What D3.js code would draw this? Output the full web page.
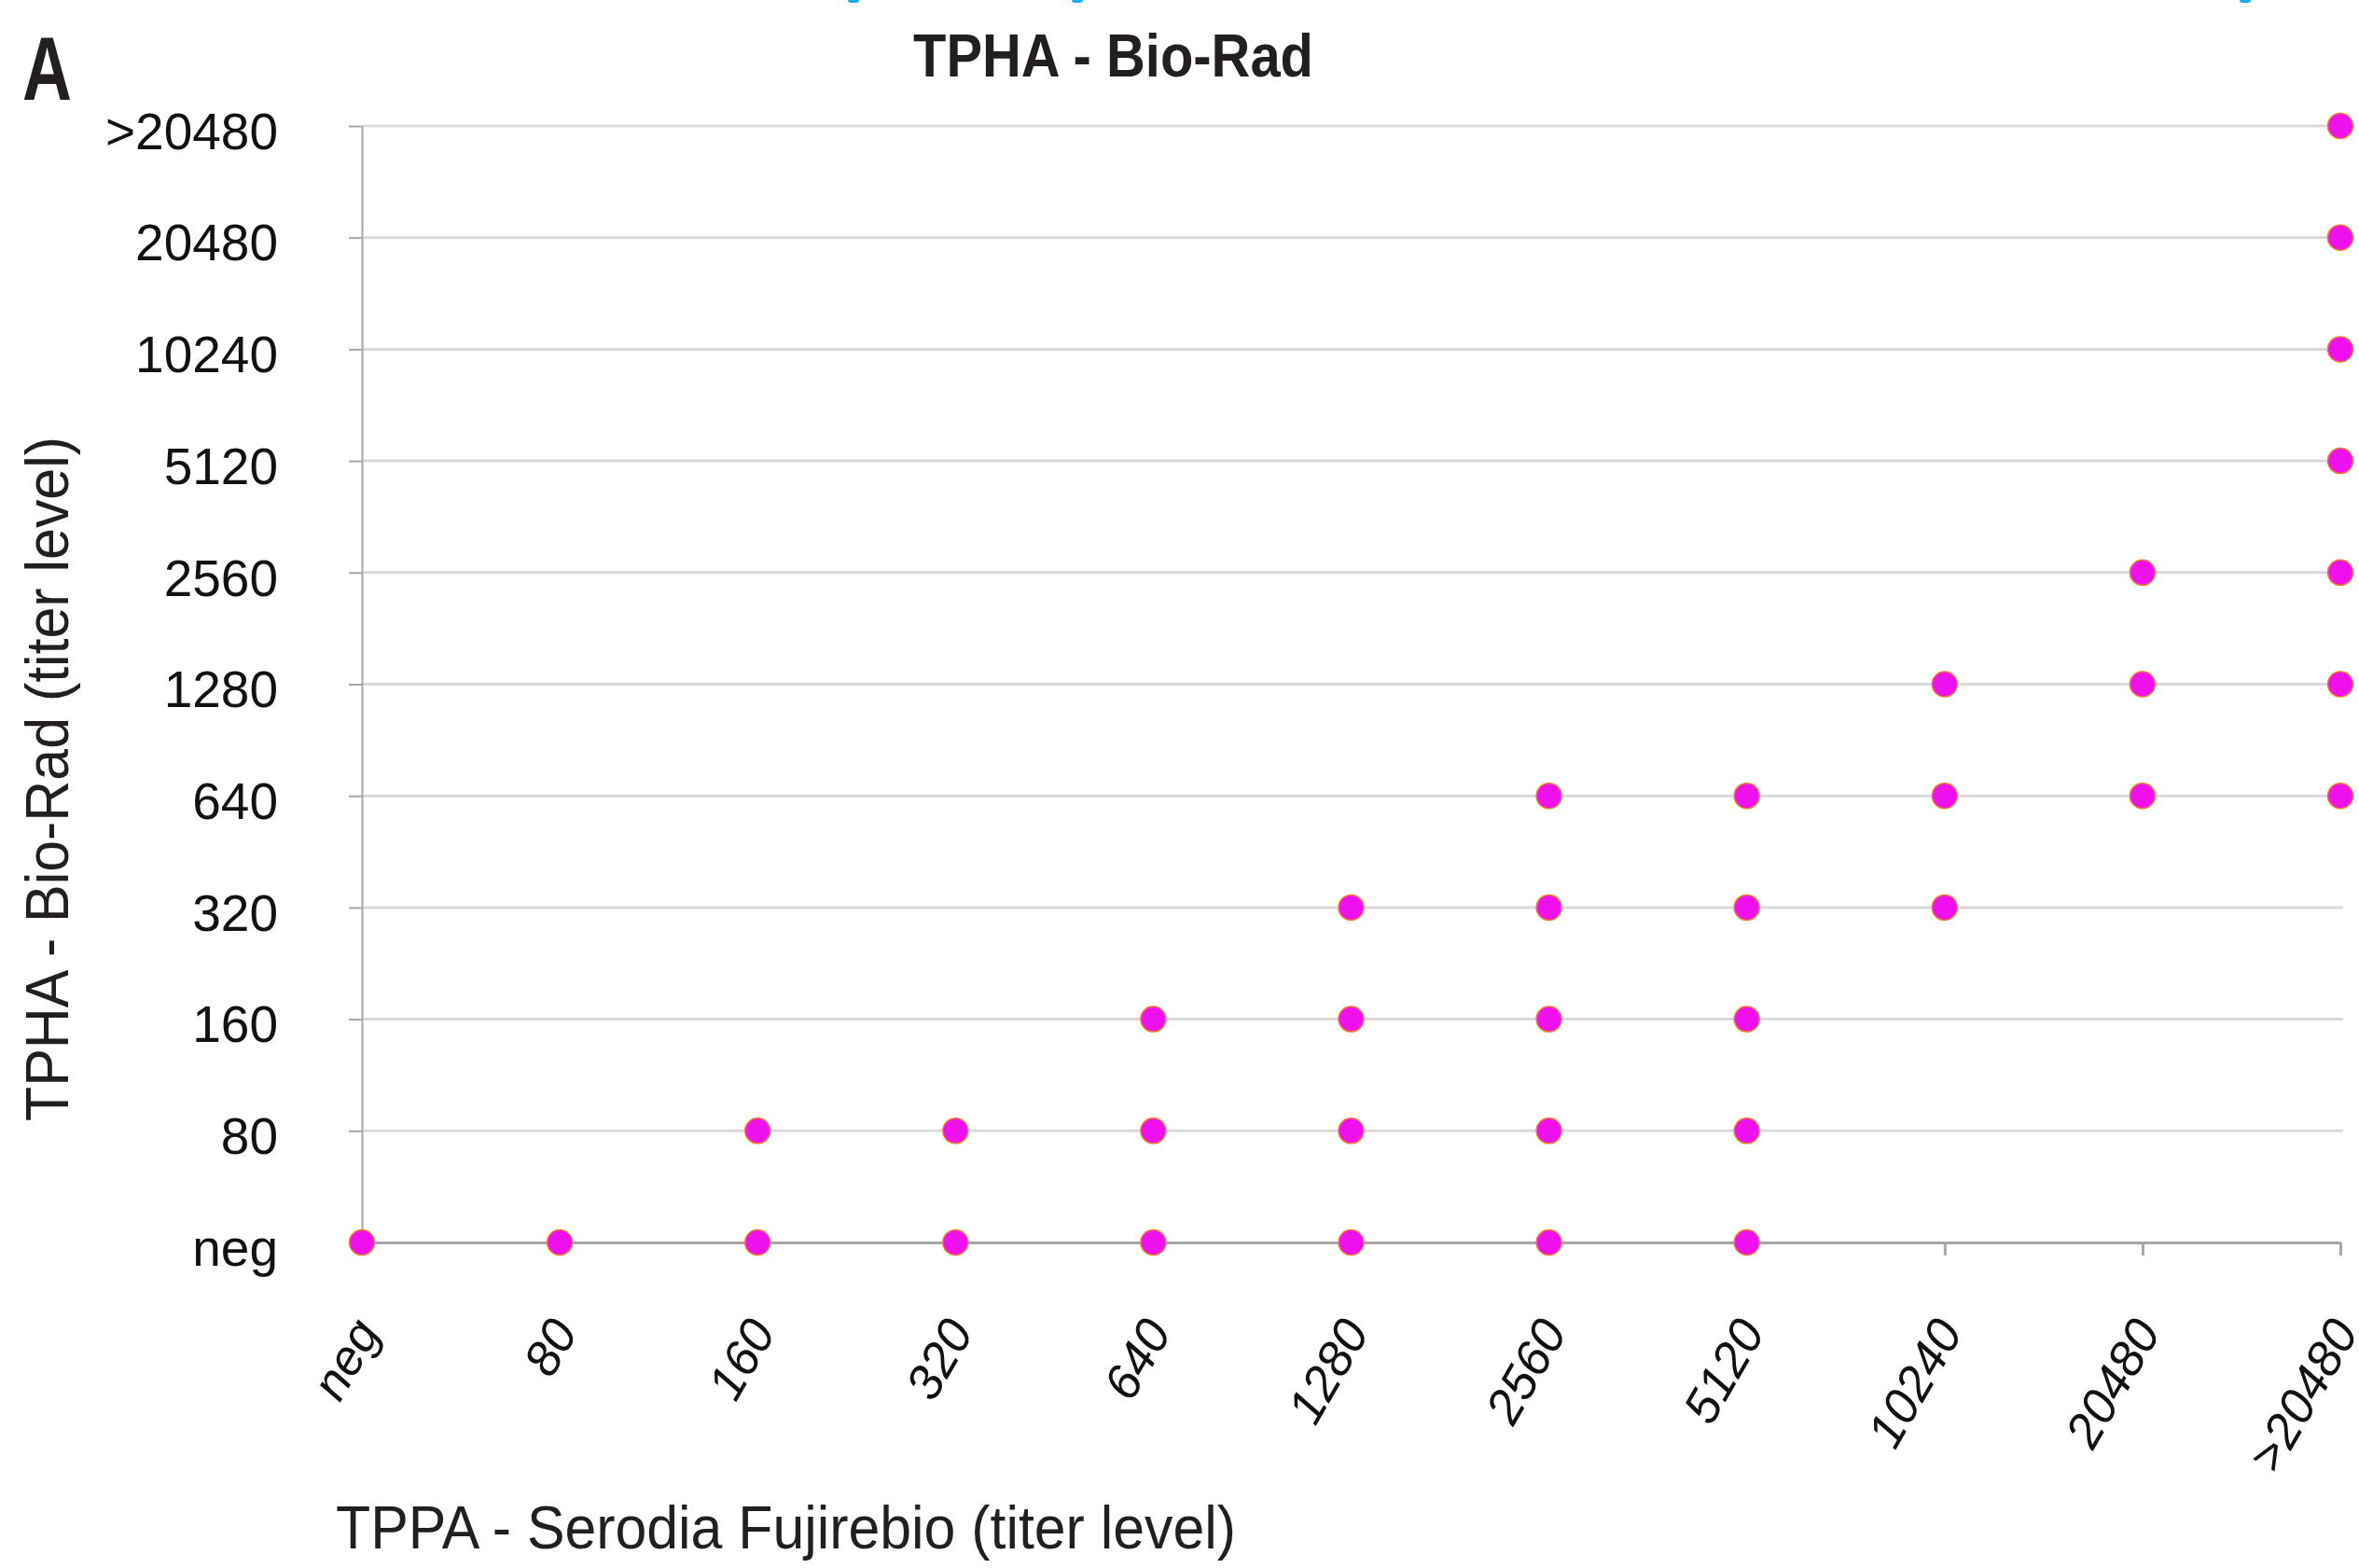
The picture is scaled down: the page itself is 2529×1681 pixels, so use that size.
<!DOCTYPE html>
<html>
<head>
<meta charset="utf-8">
<script src="https://cdn.jsdelivr.net/npm/d3@7"></script>
<style>
  body { margin: 0; background: #fff; }
  svg { display: block; font-family: "Liberation Sans", Arial, sans-serif; }
  .grid line { stroke: #d9d9d9; stroke-width: 3; }
  .y-axis .domain, .y-axis line { stroke: #a6a6a6; stroke-width: 2; }
  .x-axis .domain, .x-axis line { stroke: #a6a6a6; stroke-width: 3; }
  .y-axis text { font-size: 55px; fill: #111; }
  .x-axis text { font-size: 53px; fill: #111; font-style: italic; }
</style>
</head>
<body>
<svg width="2529" height="1681"></svg>
<script>
var svg = d3.select("svg"),
    width = +svg.attr("width"),
    height = +svg.attr("height");

// titer levels, same for both axes
var levels = ["neg", "80", "160", "320", "640", "1280", "2560", "5120", "10240", "20480", ">20480"];

// observed result pairs: TPPA (x) and TPHA (y)
var tppa = ["neg", "80",
            "160", "160",
            "320", "320",
            "640", "640", "640",
            "1280", "1280", "1280", "1280",
            "2560", "2560", "2560", "2560", "2560",
            "5120", "5120", "5120", "5120", "5120",
            "10240", "10240", "10240",
            "20480", "20480", "20480",
            ">20480", ">20480", ">20480", ">20480", ">20480", ">20480", ">20480"];
var tpha = ["neg", "neg",
            "neg", "80",
            "neg", "80",
            "neg", "80", "160",
            "neg", "80", "160", "320",
            "neg", "80", "160", "320", "640",
            "neg", "80", "160", "320", "640",
            "320", "640", "1280",
            "640", "1280", "2560",
            "640", "1280", "2560", "5120", "10240", "20480", ">20480"];

var points = tppa.map(function(d, i) { return {x: d, y: tpha[i]}; });

var x = d3.scalePoint().domain(levels).range([388, 2509]);
var y = d3.scalePoint().domain(levels).range([1332, 135]);

svg.append("rect").attr("width", width).attr("height", height).attr("fill", "#fff");

// cut-off cyan marks at the top edge
svg.append("g").selectAll("rect")
  .data([909, 1149, 2401])
  .enter().append("rect")
    .attr("x", function(d) { return d; })
    .attr("y", -4)
    .attr("width", 12)
    .attr("height", 7)
    .attr("rx", 3)
    .attr("fill", "#19aeea");

// horizontal gridlines
svg.append("g")
    .attr("class", "grid")
  .selectAll("line")
  .data(levels.slice(1))
  .enter().append("line")
    .attr("x1", 388)
    .attr("x2", 2512)
    .attr("y1", function(d) { return y(d); })
    .attr("y2", function(d) { return y(d); });

svg.append("g")
    .attr("class", "y-axis")
    .attr("transform", "translate(388,0)")
    .call(d3.axisLeft(y).tickSize(14).tickPadding(76).tickSizeOuter(0))
  .selectAll("text")
    .attr("dy", "0.44em")
    .attr("font-family", "Liberation Sans");

var xAxis = svg.append("g")
    .attr("class", "x-axis")
    .attr("transform", "translate(0,1332)")
    .call(d3.axisBottom(x).tickSize(14).tickSizeOuter(0));

xAxis.selectAll("text")
    .attr("font-family", "Liberation Sans")
    .attr("text-anchor", "end")
    .attr("x", null).attr("y", null).attr("dy", null)
    .attr("transform", "translate(20,96) rotate(-60)");

// dots
svg.append("g")
  .selectAll("circle")
  .data(points)
  .enter().append("circle")
    .attr("cx", function(d) { return x(d.x); })
    .attr("cy", function(d) { return y(d.y); })
    .attr("r", 13.5)
    .attr("fill", "#ee10ee")
    .attr("stroke", "#ef7a35")
    .attr("stroke-width", 1.5);

// titles
svg.append("text")
    .attr("x", 979)
    .attr("y", 82)
    .attr("font-size", 65)
    .attr("font-weight", "bold")
    .attr("fill", "#231f20")
    .attr("textLength", 429)
    .attr("lengthAdjust", "spacingAndGlyphs")
    .text("TPHA - Bio-Rad");

svg.append("text")
    .attr("x", 24)
    .attr("y", 107)
    .attr("font-size", 96)
    .attr("font-weight", "bold")
    .attr("fill", "#231f20")
    .attr("textLength", 53)
    .attr("lengthAdjust", "spacingAndGlyphs")
    .text("A");

svg.append("text")
    .attr("transform", "translate(73,1202) rotate(-90)")
    .attr("font-size", 64)
    .attr("fill", "#231f20")
    .attr("textLength", 734)
    .attr("lengthAdjust", "spacingAndGlyphs")
    .text("TPHA - Bio-Rad (titer level)");

svg.append("text")
    .attr("x", 360)
    .attr("y", 1660)
    .attr("font-size", 64)
    .attr("fill", "#231f20")
    .attr("textLength", 965)
    .attr("lengthAdjust", "spacingAndGlyphs")
    .text("TPPA - Serodia Fujirebio (titer level)");
</script>
</body>
</html>
